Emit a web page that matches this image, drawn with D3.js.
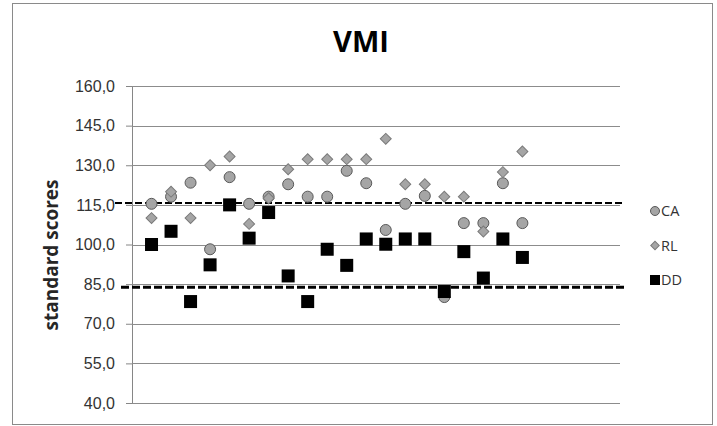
<!DOCTYPE html>
<html>
<head>
<meta charset="utf-8">
<script src="https://cdn.jsdelivr.net/npm/d3@7"></script>
<style>
  body { margin: 0; background: #fff; }
  svg { display: block; font-family: 'Open Sans', sans-serif; }
</style>
</head>
<body>
<svg width="717" height="426"></svg>
<script>
// subject index 1..20 on the x axis
const subjects = d3.range(1, 21);
const caScores = [115.4, 118.1, 123.4, 98.2, 125.5, 115.4, 118.1, 122.8, 118.1, 118.1,
                  127.9, 123.2, 105.5, 115.4, 118.4, 80.1, 108.1, 108.1, 123.2, 108.1];
const rlScores = [110, 120, 110, 130, 133.3, 107.8, 117.5, 128.5, 132.3, 132.3,
                  132.3, 132.3, 140, 122.8, 122.8, 118.1, 118.1, 104.9, 127.4, 135.2];
const ddScores = [100, 105, 78.4, 92.3, 115, 102.4, 112.1, 88.1, 78.4, 98.2,
                  92.1, 102.1, 100.1, 102.1, 102.1, 82.2, 97.3, 87.3, 102.1, 95.1];
const yTicks = [40, 55, 70, 85, 100, 115, 130, 145, 160];
const refLines = [115.7, 83.8];   // upper / lower dashed cut-offs
const seriesNames = ['CA', 'RL', 'DD'];

const svg = d3.select('svg');
const width  = +svg.attr('width');
const height = +svg.attr('height');

// outer chart frame
svg.append('rect')
  .attr('x', 12.5).attr('y', 3.5)
  .attr('width', 700).attr('height', 421)
  .attr('fill', '#fff')
  .attr('stroke', '#8a8a8a');

const margin = { top: 86, bottom: 23, left: 132, right: 97 };

const xScale = d3.scaleLinear()
  .domain([0, 25])
  .range([margin.left, width - margin.right]);
const yScale = d3.scaleLinear()
  .domain([40, 160])
  .range([height - margin.bottom, margin.top]);

// y axis with gridlines
const fmt = d => d3.format('.1f')(d).replace('.', ',');
const yAxis = d3.axisLeft(yScale).tickValues(yTicks).tickFormat(fmt).tickSizeOuter(0).tickSize(6).tickPadding(11);
const yAxisG = svg.append('g')
  .attr('transform', `translate(${margin.left},0)`)
  .call(yAxis);
yAxisG.select('.domain').attr('stroke', '#868686');
yAxisG.selectAll('.tick line').attr('stroke', '#868686');
yAxisG.selectAll('.tick text')
  .style('font-size', '16px')
  .attr('fill', '#333');

svg.append('g')
  .selectAll('line')
  .data(yTicks).enter()
  .append('line')
    .attr('x1', margin.left)
    .attr('x2', width - margin.right)
    .attr('y1', d => Math.round(yScale(d)) + 0.5)
    .attr('y2', d => Math.round(yScale(d)) + 0.5)
    .attr('stroke', '#8c8c8c');

// dashed reference lines
svg.append('line')
  .attr('x1', 115).attr('x2', 625)
  .attr('y1', yScale(refLines[0])).attr('y2', yScale(refLines[0]))
  .attr('stroke', '#000').attr('stroke-width', 2)
  .attr('stroke-dasharray', '7,3');
svg.append('line')
  .attr('x1', 121).attr('x2', 625)
  .attr('y1', yScale(refLines[1])).attr('y2', yScale(refLines[1]))
  .attr('stroke', '#000').attr('stroke-width', 3)
  .attr('stroke-dasharray', '8,3');

// series markers
const ca = subjects.map((s, i) => ({ x: s, y: caScores[i] }));
const rl = subjects.map((s, i) => ({ x: s, y: rlScores[i] }));
const dd = subjects.map((s, i) => ({ x: s, y: ddScores[i] }));

svg.append('g').selectAll('circle')
  .data(ca).enter()
  .append('circle')
    .attr('cx', d => xScale(d.x))
    .attr('cy', d => yScale(d.y))
    .attr('r', 5.5)
    .attr('fill', '#a5a5a5')
    .attr('stroke', '#595959');

const diamond = d3.symbol().type(d3.symbolSquare).size(60);
svg.append('g').selectAll('path')
  .data(rl).enter()
  .append('path')
    .attr('d', diamond)
    .attr('transform', d => `translate(${xScale(d.x)},${yScale(d.y)}) rotate(45)`)
    .attr('fill', '#a5a5a5')
    .attr('stroke', '#7a7a7a');

svg.append('g').selectAll('rect')
  .data(dd).enter()
  .append('rect')
    .attr('x', d => xScale(d.x) - 6.5)
    .attr('y', d => yScale(d.y) - 6.5)
    .attr('width', 13).attr('height', 13)
    .attr('fill', '#000');

// legend
const legend = svg.append('g').attr('transform', 'translate(655,211)');
const legendItems = legend.selectAll('g')
  .data(seriesNames).enter()
  .append('g')
    .attr('transform', (d, i) => `translate(0,${i * 34.5})`);
legendItems.filter(d => d === 'CA').append('circle')
  .attr('r', 4.5).attr('fill', '#a5a5a5').attr('stroke', '#595959');
legendItems.filter(d => d === 'RL').append('path')
  .attr('d', d3.symbol().type(d3.symbolSquare).size(36))
  .attr('transform', 'rotate(45)')
  .attr('fill', '#a5a5a5').attr('stroke', '#7a7a7a');
legendItems.filter(d => d === 'DD').append('rect')
  .attr('x', -5).attr('y', -5).attr('width', 10).attr('height', 10)
  .attr('fill', '#000');
legendItems.append('text')
  .attr('x', 6)
  .attr('dy', '0.36em')
  .style('font-size', '14.5px')
  .attr('fill', '#333')
  .text(d => d);

// titles
svg.append('text')
  .attr('x', 361)
  .attr('y', 52)
  .attr('text-anchor', 'middle')
  .style('font-size', '29px')
  .style('font-weight', 'bold')
  .attr('fill', '#000')
  .text('VMI');

svg.append('text')
  .attr('transform', 'rotate(-90)')
  .attr('x', -255)
  .attr('y', 58)
  .attr('text-anchor', 'middle')
  .style('font-size', '19px')
  .style('font-weight', 'bold')
  .attr('fill', '#262626')
  .text('standard scores');
</script>
</body>
</html>
